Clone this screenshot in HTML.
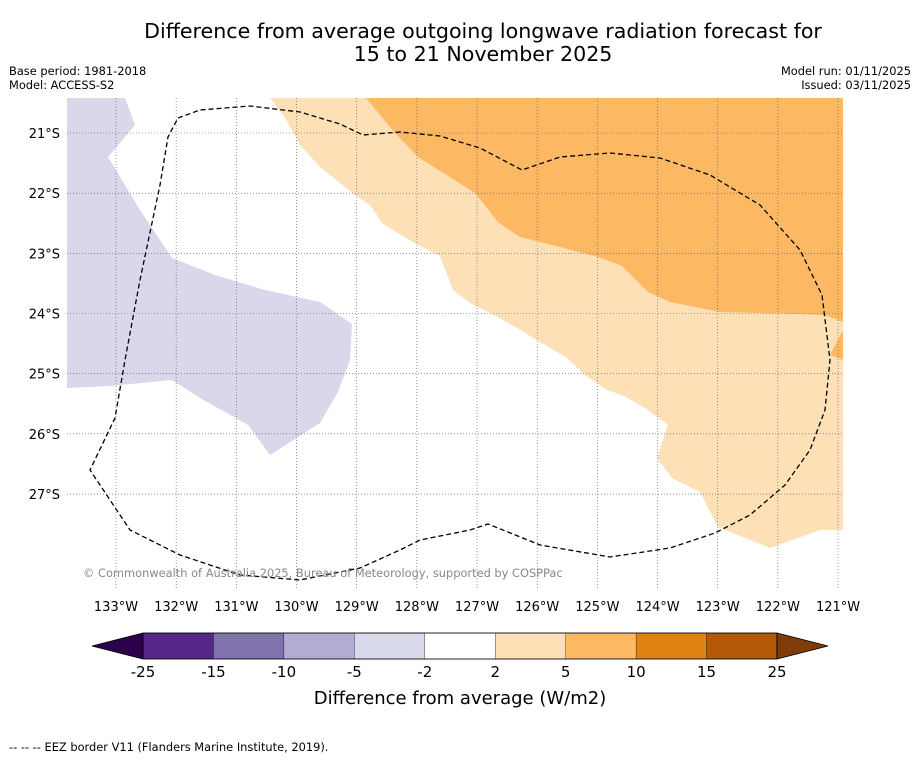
<!DOCTYPE html>
<html><head><meta charset="utf-8"><style>
body{margin:0;background:#fff;font-family:"DejaVu Sans","Liberation Sans",sans-serif}
svg text{font-family:"DejaVu Sans","Liberation Sans",sans-serif}
</style></head><body>
<svg id="c" width="919" height="758" xmlns="http://www.w3.org/2000/svg">
<rect width="919" height="758" fill="#fff"/>
<text x="483" y="38" font-size="20.6" text-anchor="middle">Difference from average outgoing longwave radiation forecast for</text>
<text x="483" y="61" font-size="20.6" text-anchor="middle">15 to 21 November 2025</text>
<text x="9" y="75" font-size="11.4">Base period: 1981-2018</text>
<text x="9" y="89" font-size="11.4">Model: ACCESS-S2</text>
<text x="911" y="75" font-size="11.4" text-anchor="end">Model run: 01/11/2025</text>
<text x="911" y="89" font-size="11.4" text-anchor="end">Issued: 03/11/2025</text>
<defs><clipPath id="mc"><rect x="67" y="98" width="776" height="492"/></clipPath></defs>
<g clip-path="url(#mc)">
<polygon fill="#d8d8ea" points="67,98 125,98 135,125 108,157 140,210 172,258 215,275 265,290 320,302 352,324 350,360 338,392 320,423 270,455 248,425 200,398 172,380 110,386 67,388"/>
<polygon fill="#fee0b6" points="270,98 843,98 843,530 820,530 770,548 718,527 700,492 672,478 657,458 668,425 645,408 622,395 607,390 585,375 567,358 540,342 512,325 490,313 470,303 453,290 440,256 418,245 383,224 370,205 355,195 320,167 300,145 285,118"/>
<polygon fill="#fdb863" points="366,98 843,98 843,322 825,315 800,314 720,312 670,302 648,292 622,266 598,257 560,247 520,237 498,222 475,193 418,157 395,133 380,115"/>
<polygon fill="#fdb863" points="843,330 830,355 843,360"/>
<g id="grid"></g>
<polyline fill="none" stroke="#000" stroke-width="1.3" stroke-dasharray="5,3" points="178,118 200,110 250,106 300,112 340,124 363,135 400,132 440,136 480,148 522,170 560,157 610,153 660,158 710,175 760,205 800,250 822,295 830,360 825,410 810,450 785,485 750,515 715,533 670,548 610,557 540,545 488,524 470,530 420,540 400,550 360,568 300,580 240,575 180,555 130,530 90,470 115,418 125,360 140,280 160,185 168,137 178,118"/>
</g>
<text x="83" y="577" font-size="11.4" fill="#888">© Commonwealth of Australia 2025, Bureau of Meteorology, supported by COSPPac</text>
<g id="ax"></g>
<g id="cb"></g>
<text x="460" y="704" font-size="18" text-anchor="middle">Difference from average (W/m2)</text>
<text x="9" y="751" font-size="11.4">--  --  -- EEZ border V11 (Flanders Marine Institute, 2019).</text>
</svg>
<script>
const lonTicks=[133,132,131,130,129,128,127,126,125,124,123,122,121];
const latTicks=[21,22,23,24,25,26,27];
const cbLabels=["-25","-15","-10","-5","-2","2","5","10","15","25"];
const cbColors=["#542788","#8073ac","#b2abd2","#d8daeb","#ffffff","#fee0b6","#fdb863","#e08214","#b35806"];
const NS="http://www.w3.org/2000/svg";
const sx=l=>116+(133-l)*60.17, sy=l=>133+(l-21)*60.17;
function mk(t,a,p){const e=document.createElementNS(NS,t);for(const k in a)e.setAttribute(k,a[k]);p.appendChild(e);return e;}
const g=document.getElementById('grid'),ax=document.getElementById('ax'),cb=document.getElementById('cb');
lonTicks.forEach(l=>{const x=sx(l);
 const ln=mk('line',{x1:x,x2:x,y1:98,y2:590,stroke:'#555','stroke-width':0.6,'stroke-dasharray':'1,2'},g);
 
 
 const t=mk('text',{x:x,y:611,'font-size':13,'text-anchor':'middle'},ax);t.textContent=l+'°W';
 
 });
latTicks.forEach(l=>{const y=sy(l);
 const ln=mk('line',{x1:67,x2:843,y1:y,y2:y,stroke:'#555','stroke-width':0.6,'stroke-dasharray':'1,2'},g);
 
 
 const t=mk('text',{x:60,y:y+5,'font-size':13,'text-anchor':'end'},ax);t.textContent=l+'°S';
 
 });
const x0=143,x1=777,w=(x1-x0)/cbColors.length;
const l=mk('polygon',{points:`92,646 ${x0},633 ${x0},659`,fill:'#2d004b',stroke:'#000','stroke-width':0.8},cb);


cbColors.forEach((c,i)=>{const r=mk('rect',{x:x0+i*w,y:633,width:w,height:26,fill:c,stroke:'#000','stroke-width':0.3},cb);
 
 });
const r=mk('polygon',{points:`${x1},633 828,646 ${x1},659`,fill:'#7f3b08',stroke:'#000','stroke-width':0.8},cb);


mk('rect',{x:x0,y:633,width:x1-x0,height:26,fill:'none',stroke:'#000','stroke-width':0.8},cb);
cbLabels.forEach((s,i)=>{const t=mk('text',{x:x0+i*w,y:677,'font-size':15,'text-anchor':'middle'},cb);t.textContent=s;
 
 });
</script>
</body></html>
